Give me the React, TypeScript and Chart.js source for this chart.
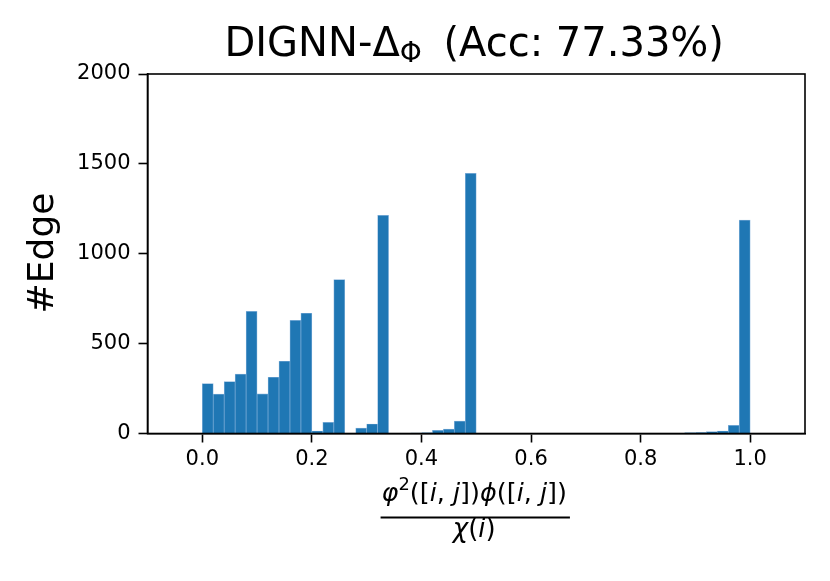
import { useEffect, useRef } from 'react';
import { Chart, registerables } from 'chart.js';

Chart.register(...registerables);

// histogram bins of width 0.02 on [0, 1]
const binCenters = [
    0.01, 0.03, 0.05, 0.07, 0.09, 0.11, 0.13, 0.15, 0.17, 0.19,
    0.21, 0.23, 0.25, 0.27, 0.29, 0.31, 0.33, 0.35, 0.37, 0.39,
    0.41, 0.43, 0.45, 0.47, 0.49, 0.51, 0.53, 0.55, 0.57, 0.59,
    0.61, 0.63, 0.65, 0.67, 0.69, 0.71, 0.73, 0.75, 0.77, 0.79,
    0.81, 0.83, 0.85, 0.87, 0.89, 0.91, 0.93, 0.95, 0.97, 0.99,
];
const edgeCounts = [
    278, 219, 289, 330, 679, 221, 313, 402, 629, 669,
    14, 62, 856, 0, 30, 53, 1214, 0, 0, 3,
    4, 18, 25, 69, 1447, 0, 0, 0, 0, 0,
    0, 0, 0, 0, 0, 0, 0, 0, 0, 0,
    2, 0, 0, 1, 4, 5, 10, 14, 45, 1187,
];
const xTickValues = [0, 0.2, 0.4, 0.6, 0.8, 1.0];
const yTickStep = 500;

const FONT = '"DejaVu Sans", sans-serif';

type Run = { t: string; it?: boolean; sup?: boolean; sub?: boolean };

function runFont(r: Run, size: number) {
    const s = r.sup || r.sub ? size * 0.7 : size;
    return `${r.it ? 'italic ' : ''}${s}px ${FONT}`;
}

function drawRuns(ctx: CanvasRenderingContext2D, runs: Run[], cx: number, baseline: number, size: number) {
    let total = 0;
    for (const r of runs) {
        ctx.font = runFont(r, size);
        total += ctx.measureText(r.t).width;
    }
    let x = cx - total / 2;
    for (const r of runs) {
        ctx.font = runFont(r, size);
        const dy = r.sup ? -size * 0.42 : r.sub ? size * 0.16 : 0;
        ctx.fillText(r.t, x, baseline + dy);
        x += ctx.measureText(r.t).width;
    }
    return total;
}

const textPlugin = {
    id: 'textPlugin',
    afterDraw(chart: Chart) {
        const { ctx, chartArea: a } = chart;
        ctx.save();
        ctx.strokeStyle = '#000';
        ctx.lineWidth = 1.6;
        ctx.strokeRect(a.left, a.top, a.right - a.left, a.bottom - a.top);

        ctx.fillStyle = '#000';
        ctx.textAlign = 'left';
        ctx.textBaseline = 'alphabetic';
        const cx = (a.left + a.right) / 2;

        drawRuns(ctx, [{ t: 'DIGNN-Δ' }, { t: 'Φ ', sub: true }, { t: ' (Acc: 77.33%)' }], cx - 2, 56, 40);

        const num: Run[] = [
            { t: 'φ', it: true }, { t: '2', sup: true }, { t: '([' }, { t: 'i', it: true }, { t: ', ' },
            { t: 'j', it: true }, { t: '])' }, { t: 'ϕ', it: true }, { t: '([' }, { t: 'i', it: true },
            { t: ', ' }, { t: 'j', it: true }, { t: '])' },
        ];
        const w = drawRuns(ctx, num, cx - 2, 501, 25.5);
        drawRuns(ctx, [{ t: 'χ', it: true }, { t: '(' }, { t: 'i', it: true }, { t: ')' }], cx - 2, 537, 26);
        ctx.lineWidth = 2;
        ctx.beginPath();
        ctx.moveTo(cx - 2 - w / 2 - 1, 517.5);
        ctx.lineTo(cx - 2 + w / 2 + 3, 517.5);
        ctx.stroke();

        ctx.translate(44, 253);
        ctx.rotate(-Math.PI / 2);
        ctx.textAlign = 'center';
        ctx.textBaseline = 'middle';
        ctx.font = `36px ${FONT}`;
        ctx.fillText('#Edge', 0, 0);
        ctx.restore();
    },
};

export default function App() {
    const canvasRef = useRef<HTMLCanvasElement | null>(null);

    useEffect(() => {
        document.body.style.margin = '0';
        if (!canvasRef.current) {
            return;
        }

        const tickFont = { family: FONT, size: 21 };
        const chart = new Chart(canvasRef.current, {
            type: 'bar',
            data: {
                datasets: [
                    {
                        data: binCenters.map((x, i) => ({ x, y: edgeCounts[i] })),
                        backgroundColor: '#1f77b4',
                        borderColor: 'rgba(120, 170, 215, 0.9)',
                        borderWidth: (c) => ((c.raw as { y: number } | undefined)?.y ? 0.7 : 0),
                        barPercentage: 1,
                        categoryPercentage: 1,
                    },
                ],
            },
            options: {
                responsive: false,
                animation: false,
                layout: { padding: { top: 74, right: 25, left: 0, bottom: 0 } },
                plugins: {
                    legend: { display: false },
                    tooltip: { enabled: false },
                    title: { display: false },
                },
                scales: {
                    x: {
                        type: 'linear',
                        min: -0.1,
                        max: 1.1,
                        offset: false,
                        afterBuildTicks: (s) => {
                            s.ticks = xTickValues.map((v) => ({ value: v }));
                        },
                        afterFit: (s) => {
                            s.height = 147.5;
                        },
                        grid: { offset: false, drawOnChartArea: false, tickLength: 9, tickWidth: 1.6, tickColor: '#000' },
                        border: { display: true, color: '#000', width: 1.6 },
                        ticks: {
                            color: '#000',
                            font: tickFont,
                            padding: 4,
                            maxRotation: 0,
                            autoSkip: false,
                            callback: (v) => Number(v).toFixed(1),
                        },
                    },
                    y: {
                        min: 0,
                        max: 2000,
                        afterFit: (s) => {
                            s.width = 147.5;
                        },
                        grid: { drawOnChartArea: false, tickLength: 9, tickWidth: 1.6, tickColor: '#000' },
                        border: { display: true, color: '#000', width: 1.6 },
                        ticks: {
                            color: '#000',
                            font: tickFont,
                            padding: 8,
                            stepSize: yTickStep,
                            callback: (v) => String(v),
                        },
                    },
                },
            },
            plugins: [textPlugin],
        });

        return () => chart.destroy();
    }, []);

    return (
        <div style={{ width: 830, height: 581, background: '#fff' }}>
            <canvas ref={canvasRef} width={830} height={581} style={{ display: 'block' }} />
        </div>
    );
}
